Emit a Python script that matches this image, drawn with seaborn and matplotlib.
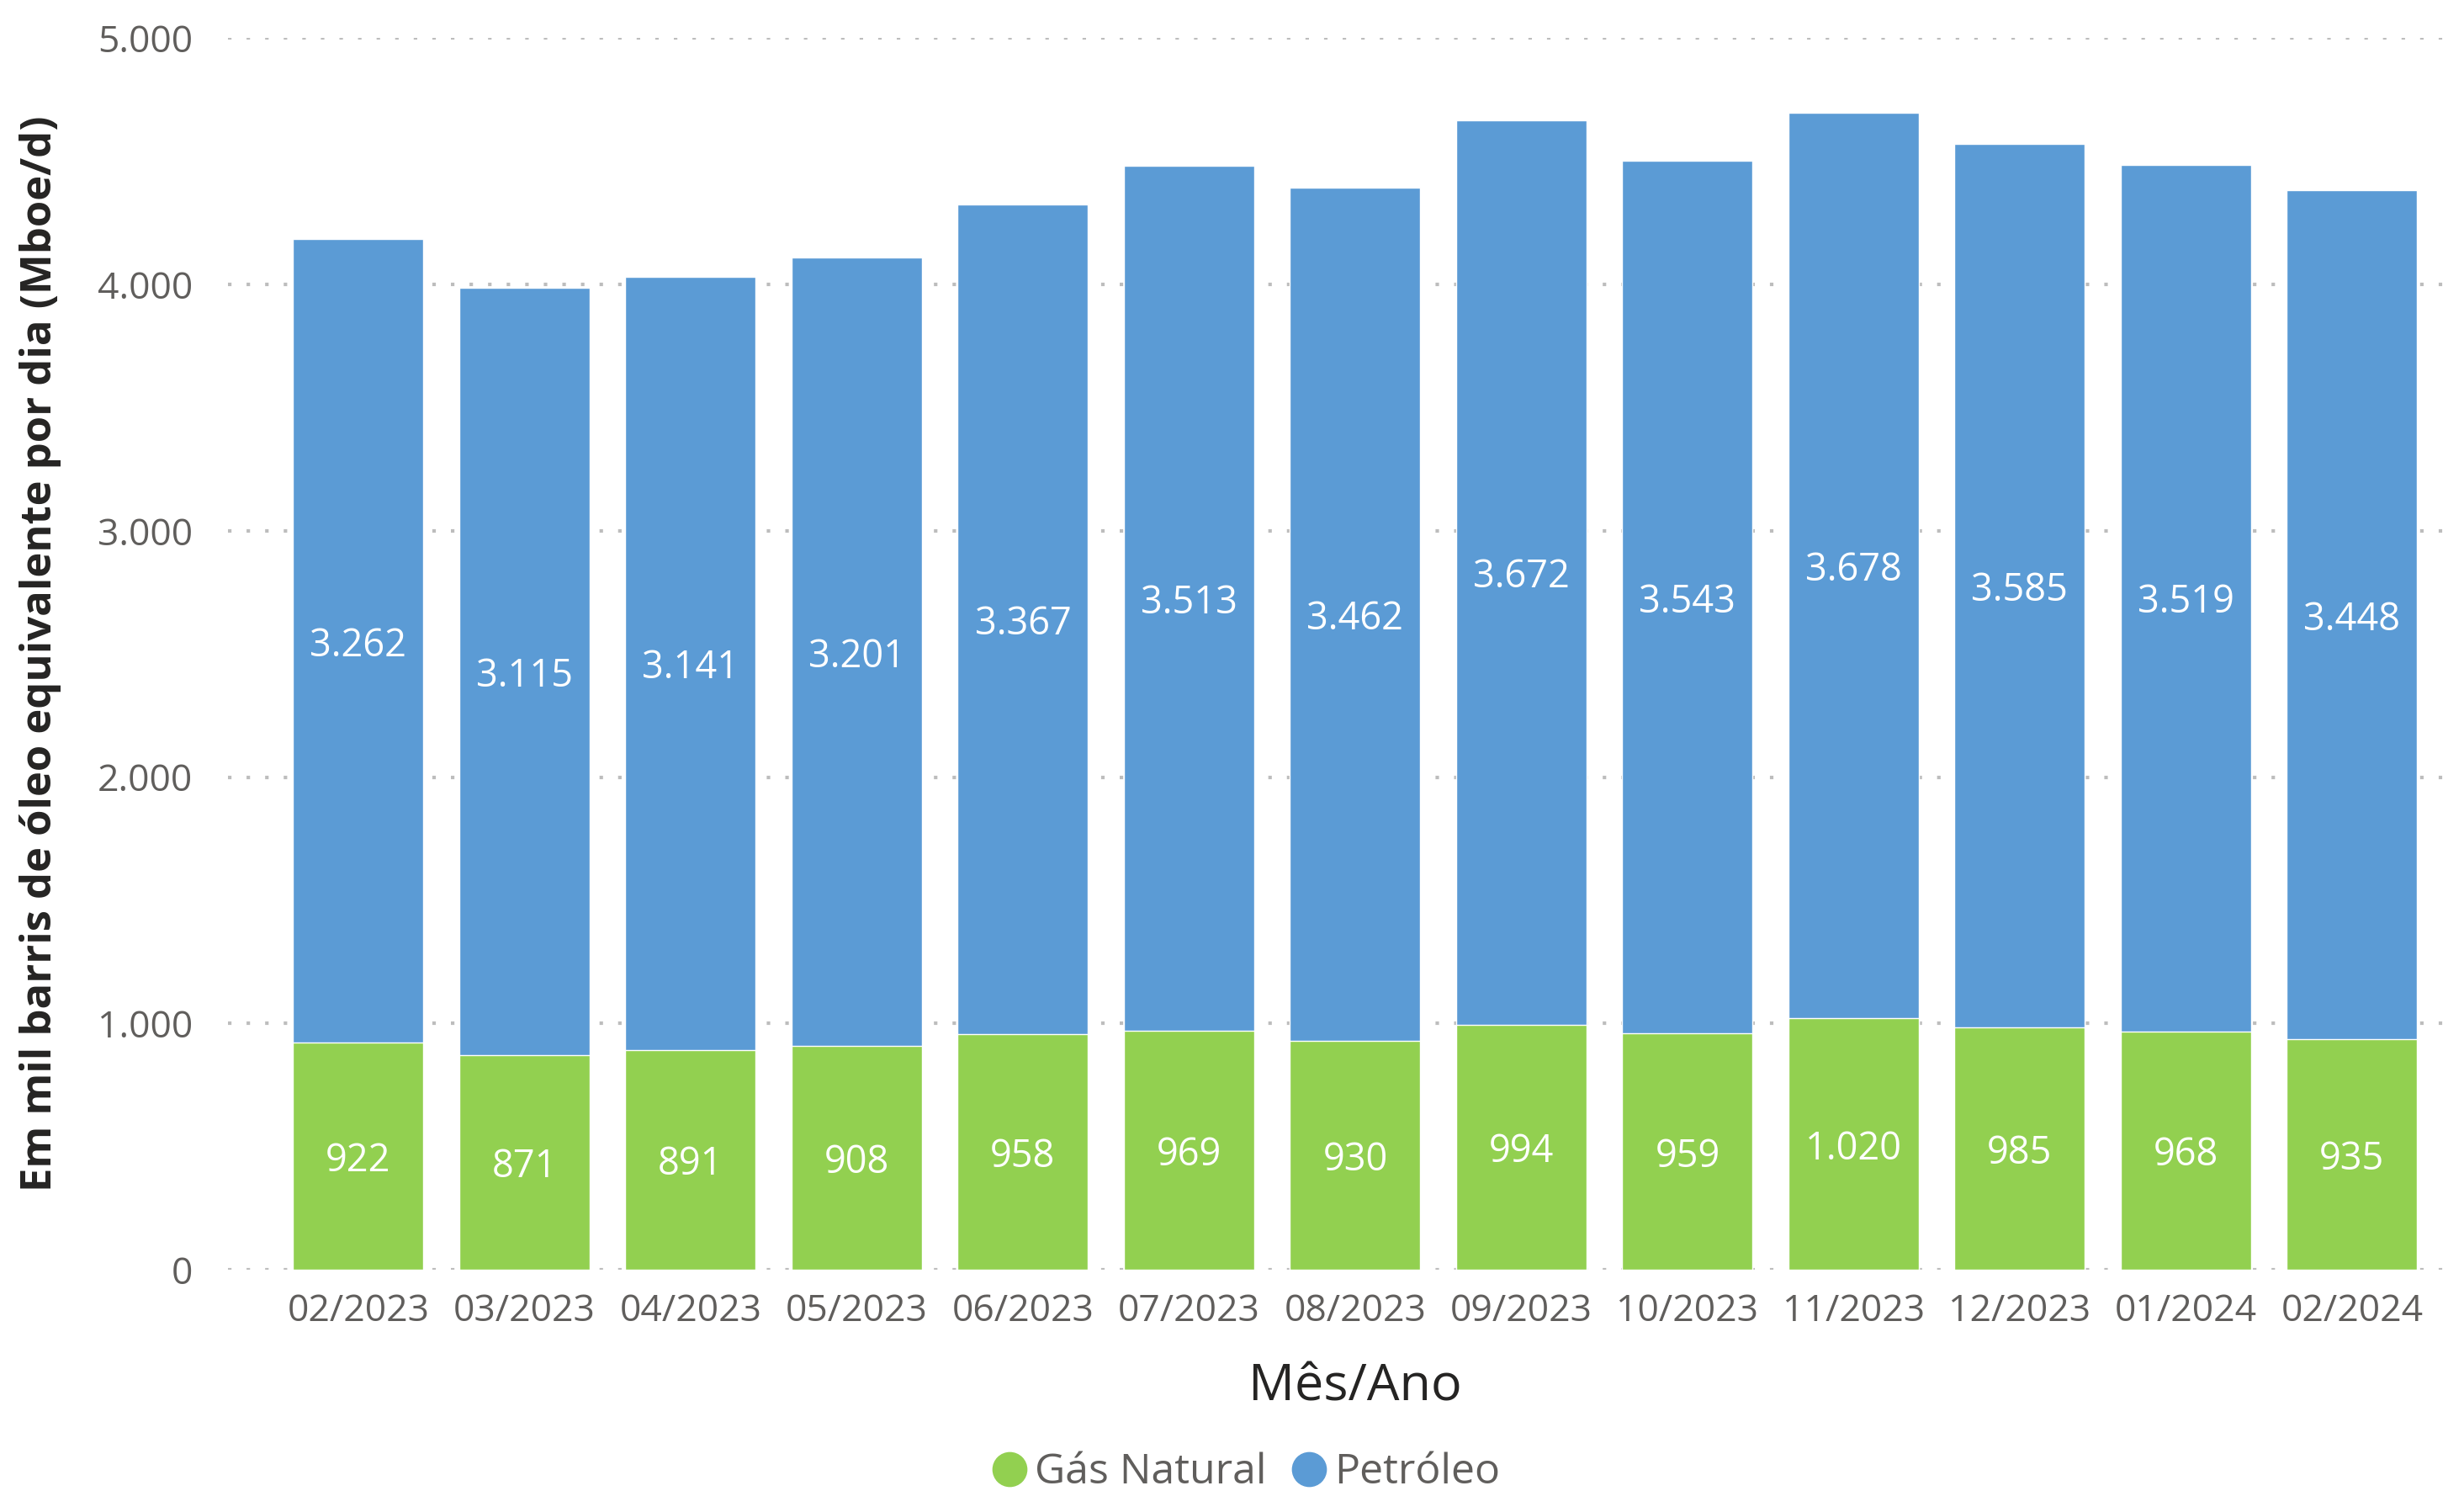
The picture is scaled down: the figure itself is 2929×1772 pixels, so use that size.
import matplotlib
matplotlib.use("Agg")
import matplotlib.pyplot as plt
from matplotlib.lines import Line2D
import pandas as pd
import seaborn as sns

meses = ['02/2023', '03/2023', '04/2023', '05/2023', '06/2023', '07/2023',
         '08/2023', '09/2023', '10/2023', '11/2023', '12/2023', '01/2024',
         '02/2024']
gas_natural = [922, 871, 891, 908, 958, 969, 930, 994, 959, 1020, 985, 968, 935]
petroleo = [3262, 3115, 3141, 3201, 3367, 3513, 3462, 3672, 3543, 3678, 3585,
            3519, 3448]

verde = '#92D050'
azul = '#5B9BD5'
cinza = '#605E5C'

sns.set_style('white')
plt.rcParams['font.family'] = ['Open Sans', 'DejaVu Sans']

df = pd.DataFrame({'mes': meses, 'gas': gas_natural, 'petroleo': petroleo})
df['total'] = df['gas'] + df['petroleo']


def fmt(v):
    return f'{v:,}'.replace(',', '.')


fig = plt.figure(figsize=(29.29, 17.72), dpi=100)
ax = fig.add_axes([0.0925, 0.1484, 0.9025, 0.826])

# barra total (azul) e gás por cima (verde) -> empilhado
sns.barplot(data=df, x='mes', y='total', color=azul, width=0.785,
            saturation=1, ax=ax, zorder=2)
sns.barplot(data=df, x='mes', y='gas', color=verde, width=0.785,
            saturation=1, ax=ax, zorder=3)

for i, row in df.iterrows():
    ax.text(i, row['gas'] / 2 - 20, fmt(row['gas']), ha='center',
            va='center', color='white', fontsize=32.5, zorder=4)
    ax.text(i, row['gas'] + row['petroleo'] / 2 - 20, fmt(row['petroleo']),
            ha='center', va='center', color='white', fontsize=32.5, zorder=4)

ax.set_ylim(0, 5000)
ax.set_xlim(-0.785, 12.6)
ax.set_yticks(range(0, 5001, 1000))
ax.set_yticklabels([fmt(v) for v in range(0, 5001, 1000)])
ax.yaxis.grid(True, color='#BDBDBD', linewidth=3, linestyle=(0, (1, 4.3)),
              zorder=0)
ax.set_axisbelow(True)
for s in ax.spines.values():
    s.set_visible(False)
ax.tick_params(axis='both', length=0, labelsize=32, colors=cinza)
ax.tick_params(axis='y', pad=30)
ax.tick_params(axis='x', pad=20)

ax.set_ylabel('Em mil barris de óleo equivalente por dia (Mboe/d)',
              fontsize=36.5, fontweight='bold', color='#252423')
ax.yaxis.set_label_coords(-0.075, 0.5)
ax.set_xlabel('Mês/Ano', fontsize=44, color='#252423')
ax.xaxis.set_label_coords(0.507, -0.095)
ax.xaxis.label.set_va('center')

handles = [Line2D([], [], marker='o', linestyle='', markersize=29,
                  markerfacecolor=verde, markeredgecolor=verde),
           Line2D([], [], marker='o', linestyle='', markersize=29,
                  markerfacecolor=azul, markeredgecolor=azul)]
fig.legend(handles, ['Gás Natural', 'Petróleo'], loc='center',
           bbox_to_anchor=(0.505, 0.012), ncol=2, frameon=False,
           fontsize=36, labelcolor=cinza, handletextpad=0.1,
           columnspacing=0.5, handlelength=1.0)

fig.savefig('out.png', dpi=100)
